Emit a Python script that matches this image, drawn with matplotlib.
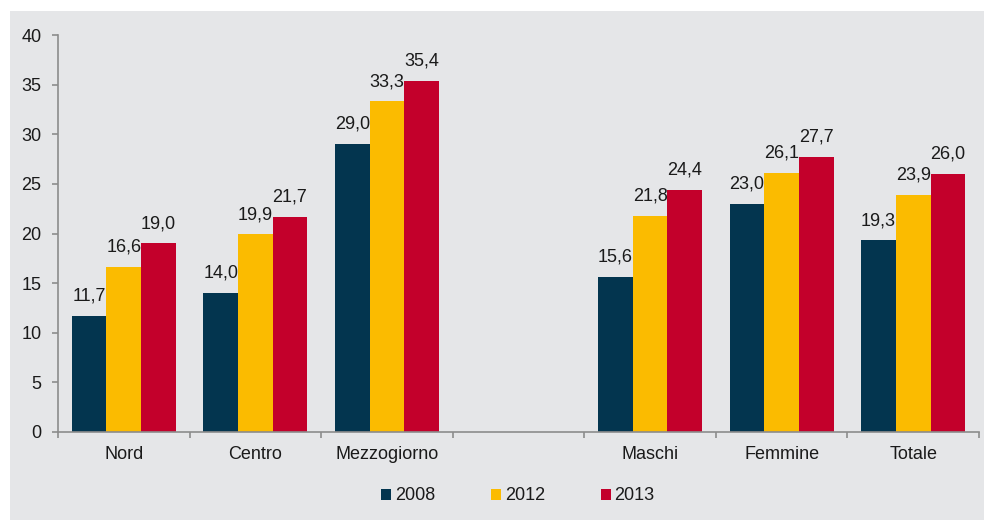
import numpy as np
import matplotlib.pyplot as plt

plt.rcParams['font.family'] = ['Liberation Sans', 'DejaVu Sans']

categories = ['Nord', 'Centro', 'Mezzogiorno', '', 'Maschi', 'Femmine', 'Totale']
years = ['2008', '2012', '2013']
v2008 = [11.7, 14.0, 29.0, None, 15.6, 23.0, 19.3]
v2012 = [16.6, 19.9, 33.3, None, 21.8, 26.1, 23.9]
v2013 = [19.0, 21.7, 35.4, None, 24.4, 27.7, 26.0]
colors = ['#03354f', '#fbbb00', '#c3002b']

bg = '#e5e6e8'
fs = 13
fig = plt.figure(figsize=(9.84, 5.2), dpi=100, facecolor='white')
# grey panel behind everything, leaving a thin white border top/left
fig.patches.append(plt.Rectangle((10 / 984, 0), 1, 1 - 11 / 520, transform=fig.transFigure,
                                 facecolor=bg, edgecolor='none', zorder=-5))
ax = fig.add_axes([58 / 984, 1 - 432 / 520, (979 - 58) / 984, (432 - 35) / 520])
ax.patch.set_alpha(0)

x = np.arange(len(categories))
w = 0.263
for i, (vals, col, yr) in enumerate(zip([v2008, v2012, v2013], colors, years)):
    xs = [xi + (i - 1) * w for xi, v in zip(x, vals) if v is not None]
    ys = [v for v in vals if v is not None]
    ax.bar(xs, ys, width=w, color=col, label=yr, zorder=2)
    for xi, v in zip(xs, ys):
        ax.annotate(f'{v:.1f}'.replace('.', ','), (xi, v), xytext=(0, 11),
                    textcoords='offset points', ha='center', va='baseline',
                    fontsize=fs, color='#1a1a1a')

ax.set_xlim(-0.5, len(categories) - 0.5)
ax.set_ylim(0, 40)
ax.set_yticks(range(0, 41, 5))

for s in ['top', 'right']:
    ax.spines[s].set_visible(False)
for s in ['left', 'bottom']:
    ax.spines[s].set_color('#8c8c8c')
    ax.spines[s].set_linewidth(1.2)

ax.set_xticks(x)
ax.set_xticklabels(categories)
ax.set_xticks(np.arange(-0.5, len(categories), 1), minor=True)
ax.tick_params(axis='x', which='major', length=0, pad=10, labelsize=fs, labelcolor='#1a1a1a')
ax.tick_params(axis='x', which='minor', length=4, width=1.2, color='#8c8c8c', direction='out')
ax.tick_params(axis='y', length=4, width=1.2, color='#8c8c8c', pad=8, labelsize=fs,
               labelcolor='#1a1a1a')

fig.legend(loc='center', bbox_to_anchor=(518 / 984, 1 - 496 / 520), ncol=3, frameon=False,
           fontsize=fs, handlelength=0.55, handleheight=0.55, handletextpad=0.2,
           columnspacing=3.1, labelcolor='#1a1a1a')

fig.savefig('out.png', dpi=100, facecolor='white')
